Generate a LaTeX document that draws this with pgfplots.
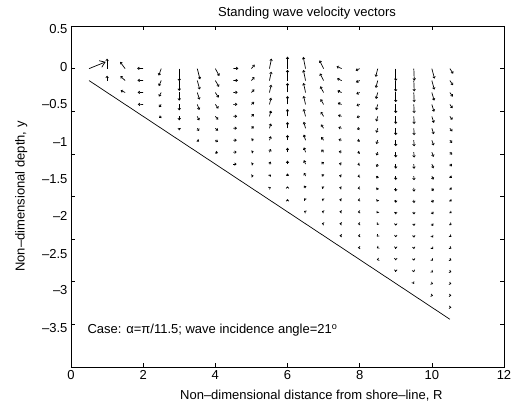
\documentclass[border=0pt]{standalone}
\usepackage{pgfplots}
\pgfplotsset{compat=1.18}
\usepackage{pgfplotstable}
\usetikzlibrary{arrows.meta}
\usepackage{fontspec}
\setmainfont{Liberation Sans}

\pgfplotstableread{
x y u v
1.0 0 0 0.117
1.0 -0.14 0 0.057
1.5 0 -0.139 0.079
1.5 -0.14 -0.130 0.052
1.5 -0.28 -0.125 0.025
2.0 0 -0.167 0.004
2.0 -0.14 -0.158 0.003
2.0 -0.28 -0.153 0.002
2.0 -0.42 -0.149 0.001
2.5 0 -0.069 -0.082
2.5 -0.14 -0.066 -0.065
2.5 -0.28 -0.064 -0.048
2.5 -0.42 -0.062 -0.032
2.5 -0.56 -0.061 -0.016
3.0 0 0 -0.147
3.0 -0.14 0 -0.121
3.0 -0.28 0 -0.096
3.0 -0.42 0 -0.071
3.0 -0.56 0 -0.047
3.0 -0.70 0 -0.024
3.5 0 0.075 -0.126
3.5 -0.14 0.068 -0.104
3.5 -0.28 0.062 -0.083
3.5 -0.42 0.057 -0.065
3.5 -0.56 0.053 -0.048
3.5 -0.70 0.051 -0.031
3.5 -0.84 0.049 -0.015
4.0 0 0.111 -0.086
4.0 -0.14 0.101 -0.073
4.0 -0.28 0.093 -0.060
4.0 -0.42 0.086 -0.049
4.0 -0.56 0.081 -0.038
4.0 -0.70 0.077 -0.028
4.0 -0.84 0.074 -0.019
4.0 -0.98 0.073 -0.009
4.5 0 0.139 0.004
4.5 -0.14 0.128 0.003
4.5 -0.28 0.119 0.003
4.5 -0.42 0.111 0.002
4.5 -0.56 0.105 0.002
4.5 -0.70 0.099 0.002
4.5 -0.84 0.095 0.001
4.5 -0.98 0.092 0.001
4.5 -1.12 0.091 0
5.0 0 0.092 0.047
5.0 -0.14 0.085 0.041
5.0 -0.28 0.080 0.036
5.0 -0.42 0.075 0.030
5.0 -0.56 0.071 0.025
5.0 -0.70 0.067 0.021
5.0 -0.84 0.064 0.016
5.0 -0.98 0.062 0.012
5.0 -1.12 0.061 0.008
5.0 -1.26 0.060 0.004
5.5 0 0.056 0.117
5.5 -0.14 0.052 0.104
5.5 -0.28 0.049 0.091
5.5 -0.42 0.046 0.079
5.5 -0.56 0.044 0.068
5.5 -0.70 0.042 0.057
5.5 -0.84 0.040 0.047
5.5 -0.98 0.039 0.037
5.5 -1.12 0.038 0.028
5.5 -1.26 0.037 0.018
5.5 -1.40 0.036 0.009
6.0 0 0 0.141
6.0 -0.14 0 0.126
6.0 -0.28 0 0.112
6.0 -0.42 0 0.099
6.0 -0.56 0 0.086
6.0 -0.70 0 0.074
6.0 -0.84 0 0.062
6.0 -0.98 0 0.052
6.0 -1.12 0 0.041
6.0 -1.26 0 0.030
6.0 -1.40 0 0.020
6.0 -1.54 0 0.010
6.5 0 -0.064 0.137
6.5 -0.14 -0.060 0.124
6.5 -0.28 -0.057 0.111
6.5 -0.42 -0.054 0.099
6.5 -0.56 -0.052 0.087
6.5 -0.70 -0.050 0.076
6.5 -0.84 -0.048 0.066
6.5 -0.98 -0.046 0.056
6.5 -1.12 -0.045 0.046
6.5 -1.26 -0.043 0.037
6.5 -1.40 -0.043 0.027
6.5 -1.54 -0.042 0.018
6.5 -1.68 -0.042 0.009
7.0 0 -0.111 0.097
7.0 -0.14 -0.101 0.084
7.0 -0.28 -0.092 0.072
7.0 -0.42 -0.084 0.062
7.0 -0.56 -0.077 0.053
7.0 -0.70 -0.071 0.045
7.0 -0.84 -0.066 0.038
7.0 -0.98 -0.061 0.031
7.0 -1.12 -0.058 0.026
7.0 -1.26 -0.054 0.021
7.0 -1.40 -0.052 0.016
7.0 -1.54 -0.050 0.012
7.0 -1.68 -0.048 0.008
7.0 -1.82 -0.048 0.004
7.5 0 -0.139 0.027
7.5 -0.14 -0.127 0.024
7.5 -0.28 -0.117 0.021
7.5 -0.42 -0.107 0.018
7.5 -0.56 -0.099 0.015
7.5 -0.70 -0.091 0.013
7.5 -0.84 -0.085 0.011
7.5 -0.98 -0.079 0.010
7.5 -1.12 -0.074 0.008
7.5 -1.26 -0.070 0.007
7.5 -1.40 -0.067 0.005
7.5 -1.54 -0.064 0.004
7.5 -1.68 -0.062 0.003
7.5 -1.82 -0.060 0.002
7.5 -1.96 -0.059 0.001
8.0 0 -0.111 -0.023
8.0 -0.14 -0.102 -0.020
8.0 -0.28 -0.094 -0.018
8.0 -0.42 -0.087 -0.016
8.0 -0.56 -0.081 -0.014
8.0 -0.70 -0.075 -0.012
8.0 -0.84 -0.070 -0.010
8.0 -0.98 -0.065 -0.009
8.0 -1.12 -0.061 -0.007
8.0 -1.26 -0.058 -0.006
8.0 -1.40 -0.055 -0.005
8.0 -1.54 -0.053 -0.004
8.0 -1.68 -0.051 -0.003
8.0 -1.82 -0.049 -0.002
8.0 -1.96 -0.048 -0.002
8.0 -2.10 -0.048 -0.001
8.5 0 -0.056 -0.097
8.5 -0.14 -0.052 -0.086
8.5 -0.28 -0.048 -0.076
8.5 -0.42 -0.044 -0.067
8.5 -0.56 -0.041 -0.059
8.5 -0.70 -0.038 -0.052
8.5 -0.84 -0.036 -0.045
8.5 -0.98 -0.034 -0.039
8.5 -1.12 -0.032 -0.034
8.5 -1.26 -0.030 -0.029
8.5 -1.40 -0.029 -0.025
8.5 -1.54 -0.027 -0.021
8.5 -1.68 -0.026 -0.017
8.5 -1.82 -0.025 -0.013
8.5 -1.96 -0.025 -0.010
8.5 -2.10 -0.024 -0.006
8.5 -2.24 -0.024 -0.003
9.0 0 0 -0.144
9.0 -0.14 0 -0.129
9.0 -0.28 0 -0.114
9.0 -0.42 0 -0.102
9.0 -0.56 0 -0.090
9.0 -0.70 0 -0.080
9.0 -0.84 0 -0.070
9.0 -0.98 0 -0.062
9.0 -1.12 0 -0.054
9.0 -1.26 0 -0.047
9.0 -1.40 0 -0.040
9.0 -1.54 0 -0.034
9.0 -1.68 0 -0.029
9.0 -1.82 0 -0.023
9.0 -1.96 0 -0.018
9.0 -2.10 0 -0.014
9.0 -2.24 0 -0.009
9.0 -2.38 0 -0.004
9.5 0 0.014 -0.141
9.5 -0.14 0.013 -0.127
9.5 -0.28 0.012 -0.113
9.5 -0.42 0.011 -0.102
9.5 -0.56 0.010 -0.090
9.5 -0.70 0.010 -0.081
9.5 -0.84 0.009 -0.072
9.5 -0.98 0.009 -0.064
9.5 -1.12 0.008 -0.056
9.5 -1.26 0.008 -0.049
9.5 -1.40 0.008 -0.043
9.5 -1.54 0.007 -0.037
9.5 -1.68 0.007 -0.031
9.5 -1.82 0.007 -0.026
9.5 -1.96 0.007 -0.022
9.5 -2.10 0.006 -0.017
9.5 -2.24 0.006 -0.013
9.5 -2.38 0.006 -0.008
9.5 -2.52 0.006 -0.004
10.0 0 0.075 -0.117
10.0 -0.14 0.070 -0.106
10.0 -0.28 0.066 -0.095
10.0 -0.42 0.062 -0.086
10.0 -0.56 0.058 -0.077
10.0 -0.70 0.054 -0.069
10.0 -0.84 0.051 -0.061
10.0 -0.98 0.048 -0.055
10.0 -1.12 0.046 -0.049
10.0 -1.26 0.044 -0.043
10.0 -1.40 0.041 -0.038
10.0 -1.54 0.040 -0.033
10.0 -1.68 0.038 -0.029
10.0 -1.82 0.037 -0.025
10.0 -1.96 0.035 -0.021
10.0 -2.10 0.034 -0.017
10.0 -2.24 0.033 -0.013
10.0 -2.38 0.033 -0.010
10.0 -2.52 0.032 -0.006
10.0 -2.66 0.032 -0.003
10.5 0 0.092 -0.059
10.5 -0.14 0.086 -0.054
10.5 -0.28 0.081 -0.048
10.5 -0.42 0.076 -0.044
10.5 -0.56 0.072 -0.040
10.5 -0.70 0.068 -0.036
10.5 -0.84 0.064 -0.032
10.5 -0.98 0.061 -0.029
10.5 -1.12 0.057 -0.026
10.5 -1.26 0.054 -0.023
10.5 -1.40 0.052 -0.020
10.5 -1.54 0.050 -0.018
10.5 -1.68 0.048 -0.016
10.5 -1.82 0.046 -0.014
10.5 -1.96 0.044 -0.012
10.5 -2.10 0.043 -0.010
10.5 -2.24 0.042 -0.008
10.5 -2.38 0.041 -0.006
10.5 -2.52 0.040 -0.005
10.5 -2.66 0.040 -0.003
10.5 -2.80 0.039 -0.002
}\vel

\pgfplotstableread{
x y u v
0.5 0 0.461 0.079
}\bigvec

\begin{document}
\begin{tikzpicture}
\begin{axis}[name=ax,
  scale only axis, width=433pt, height=341pt,
  xmin=0, xmax=12, ymin=-3.5, ymax=0.5,
  xtick={0,2,4,6,8,10,12},
  ytick={-3.5,-3,-2.5,-2,-1.5,-1,-0.5,0,0.5},
  yticklabels={},
  extra y ticks={0.461,0.023,-0.418,-0.857,-1.298,-1.729,-2.174,-2.597,-3.046},
  extra y tick labels={0.5,0,--0.5,--1,--1.5,--2,--2.5,--3,--3.5},
  extra y tick style={major tick length=0pt, tick style={draw=none}},
  tick pos=both, tick align=inside, major tick length=4pt,
  axis line style={line width=0.8pt},
  every tick/.style={black, line width=0.6pt},
  /pgf/number format/assume math mode=true,
  tick label style={font=\fontsize{13}{15}\selectfont},
  label style={font=\fontsize{13}{15}\selectfont},
  every axis title shift=0pt,
  title style={font=\fontsize{13}{15}\selectfont, at={(axis description cs:0.545,1.029)}, anchor=base},
  title={Standing wave velocity vectors},
  xlabel={Non--dimensional distance from shore--line, R},
  xlabel style={at={(axis description cs:0.555,-0.085)}, anchor=center},
  ylabel={Non--dimensional depth, y},
  ylabel style={at={(axis description cs:-0.115,0.5)}, anchor=center},
]
\addplot[black, line width=0.7pt] coordinates {(0.5,-0.14) (10.5,-2.94)};
\addplot[black, line width=0.7pt,
  quiver={u=\thisrow{u}, v=\thisrow{v},
    every arrow/.append style={-{Straight Barb[length=1.6pt,width=2.6pt]}}}]
  table {\vel};
\addplot[black, line width=0.7pt,
  quiver={u=\thisrow{u}, v=\thisrow{v},
    every arrow/.append style={-{Straight Barb[length=5pt,width=7pt]}}}]
  table {\bigvec};
\node[anchor=west, font=\fontsize{13}{15}\selectfont, inner sep=0pt] at (axis cs:0.453,-3.066)
  {Case: α=π/11.5; wave incidence angle=21\textsuperscript{o}};
\end{axis}
\pgfresetboundingbox
\path[use as bounding box] (ax.south west) ++(-71pt,-42pt) rectangle ++(517pt,409pt);
\end{tikzpicture}
\end{document}
